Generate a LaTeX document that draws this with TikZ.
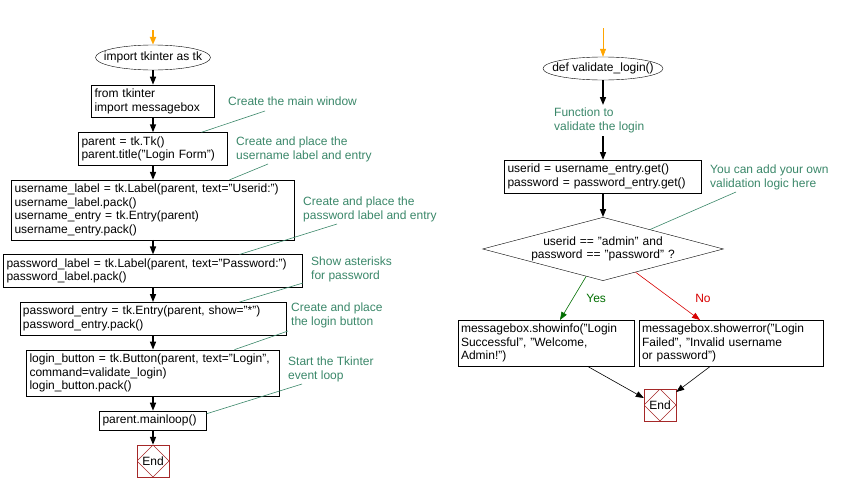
\documentclass[tikz,border=0pt]{standalone}
\usepackage{fontspec}
\setmainfont{Liberation Sans}
\usetikzlibrary{positioning,calc,shapes.geometric,arrows.meta}
\definecolor{notegreen}{RGB}{58,135,105}
\definecolor{endred}{RGB}{165,40,40}
\definecolor{startorange}{RGB}{255,165,0}
\definecolor{yesgreen}{RGB}{0,110,0}
\definecolor{nored}{RGB}{215,0,0}
\newcommand{\chartfont}{\fontsize{12}{13.5}\selectfont}
\tikzset{
		codebox/.style={draw,rectangle,align=left,inner xsep=3pt,inner ysep=4pt,font=\chartfont},
		startnode/.style={draw,ellipse,inner xsep=-20pt,inner ysep=0pt,font=\chartfont},
		decision/.style={draw,diamond,aspect=3.8,inner sep=0pt,align=center,font=\chartfont},
		note/.style={text=notegreen,align=left,inner sep=0pt,anchor=north west,font=\chartfont},
		noteline/.style={draw=notegreen,line width=0.6pt},
		flow/.style={-{Triangle[length=8pt,width=6pt]},line width=1.5pt},
		thinflow/.style={-{Triangle[length=8pt,width=6pt]},line width=0.6pt},
		startflow/.style={draw=startorange,-{Triangle[length=8pt,width=6pt,fill=startorange]}},
		endbox/.style={draw=endred,minimum size=32pt,inner sep=0pt,font=\chartfont,
			path picture={\draw[endred] (path picture bounding box.north) -- (path picture bounding box.east)
				-- (path picture bounding box.south) -- (path picture bounding box.west) -- cycle;}},
		}
\begin{document}
\begin{tikzpicture}[x=1pt,y=-1pt,node distance=14.5pt]
					\useasboundingbox (0,0) rectangle (843,485);
					%NODES for the main program
					\coordinate (s1) at (153,30);
					\node[startnode,minimum width=115pt,minimum height=25pt](st) at (153,57.5){import tkinter as tk};
					\node[codebox,text width=117pt](b1)[below=of st]{from tkinter\\import messagebox};
					\node[codebox,text width=143pt](b2)[below=of b1]{parent = tk.Tk()\\parent.title("Login Form")};
					\node[codebox,text width=277pt](b3)[below=of b2]{username\_label = tk.Label(parent, text="Userid:")\\username\_label.pack()\\username\_entry = tk.Entry(parent)\\username\_entry.pack()};
					\node[codebox,text width=293pt](b4)[below=of b3]{password\_label = tk.Label(parent, text="Password:")\\password\_label.pack()};
					\node[codebox,text width=260pt](b5)[below=of b4]{password\_entry = tk.Entry(parent, show="*")\\password\_entry.pack()};
					\node[codebox,text width=247pt](b6)[below=of b5]{login\_button = tk.Button(parent, text="Login",\\command=validate\_login)\\login\_button.pack()};
					\node[codebox,text width=101pt](b7)[below=of b6]{parent.mainloop()};
					\node[endbox](end1)[below=of b7]{End};
					%COMMENTS for the main program
					\node[note](c1) at (228,97){Create the main window};
					\node[note](c2) at (236,137){Create and place the\\username label and entry};
					\node[note](c3) at (303,197){Create and place the\\password label and entry};
					\node[note](c4) at (311,257){Show asterisks\\for password};
					\node[note](c5) at (291,303){Create and place\\the login button};
					\node[note](c6) at (288,357){Start the Tkinter\\event loop};
					%NODES for validate_login
					\coordinate (s2) at (603,28);
					\node[startnode,minimum width=120pt,minimum height=23pt](val) at (603,68.5){def validate\_login()};
					\node[note,inner sep=3pt](fn) at (551,105){Function to\\validate the login};
					\node[codebox,text width=191pt,anchor=north](rb) at (603,160){userid = username\_entry.get()\\password = password\_entry.get()};
					\node[decision,text width=147pt](dec)[below=24pt of rb]{userid == "admin" and\\password == "password" ?};
					\node[codebox,text width=170pt,anchor=north](yes) at (546,320){messagebox.showinfo("Login\\Successful", "Welcome,\\Admin!")};
					\node[codebox,text width=178pt,anchor=north](no) at (731,320){messagebox.showerror("Login\\Failed", "Invalid username\\or password")};
					\node[endbox](end2) at (660,405){End};
					\node[note](c7) at (710,165){You can add your own\\validation logic here};
					%PATHS
					\draw[startflow,line width=2pt] (s1) -- (st.north);
					\draw[startflow,line width=0.6pt] (s2) -- (val.north);
					\foreach \a/\b in {st/b1,b1/b2,b2/b3,b3/b4,b4/b5,b5/b6,b6/b7,b7/end1}
						\draw[flow] (\a.south) -- (\a.south |- \b.north);
					\draw[flow] (val.south) -- (val.south |- fn.north);
					\draw[flow] (val.south |- fn.south) -- (rb.north);
					\draw[flow] (rb.south) -- (dec.north);
					\draw[thinflow,yesgreen] ($(dec.south)!0.14!(dec.west)$) -- node[pos=0.5,right=13pt,inner sep=0pt,font=\chartfont]{Yes} ([xshift=14pt]yes.north);
					\draw[thinflow,nored] ($(dec.south)!0.27!(dec.east)$) -- node[pos=0.55,right=24pt,inner sep=0pt,font=\chartfont]{No} ([xshift=-31pt]no.north);
					\draw[thinflow] ([xshift=42pt]yes.south) -- ([yshift=7pt]end2.west);
					\draw[thinflow] ([xshift=-21pt]no.south) -- ([yshift=13pt]end2.east);
					%COMMENT LINES
					\draw[noteline] ([xshift=48.5pt]b2.north) -- ([xshift=37pt,yshift=-14pt]c1.north west);
					\draw[noteline] ([xshift=76.5pt]b3.north) -- ([xshift=32pt,yshift=-27pt]c2.north west);
					\draw[noteline] ([xshift=86.5pt]b4.north) -- ([xshift=34pt,yshift=-27pt]c3.north west);
					\draw[noteline] ([xshift=86.5pt]b5.north) -- ([xshift=-8pt,yshift=-26pt]c4.north west);
					\draw[noteline] ([xshift=81.5pt]b6.north) -- ([xshift=-3pt,yshift=-28pt]c5.north west);
					\draw[noteline] ([yshift=-3pt]b7.north east) -- ([xshift=14pt,yshift=-27pt]c6.north west);
					\draw[noteline] ($(dec.north)!0.39!(dec.east)$) -- ([xshift=26pt,yshift=-27pt]c7.north west);
				\end{tikzpicture}
\end{document}
